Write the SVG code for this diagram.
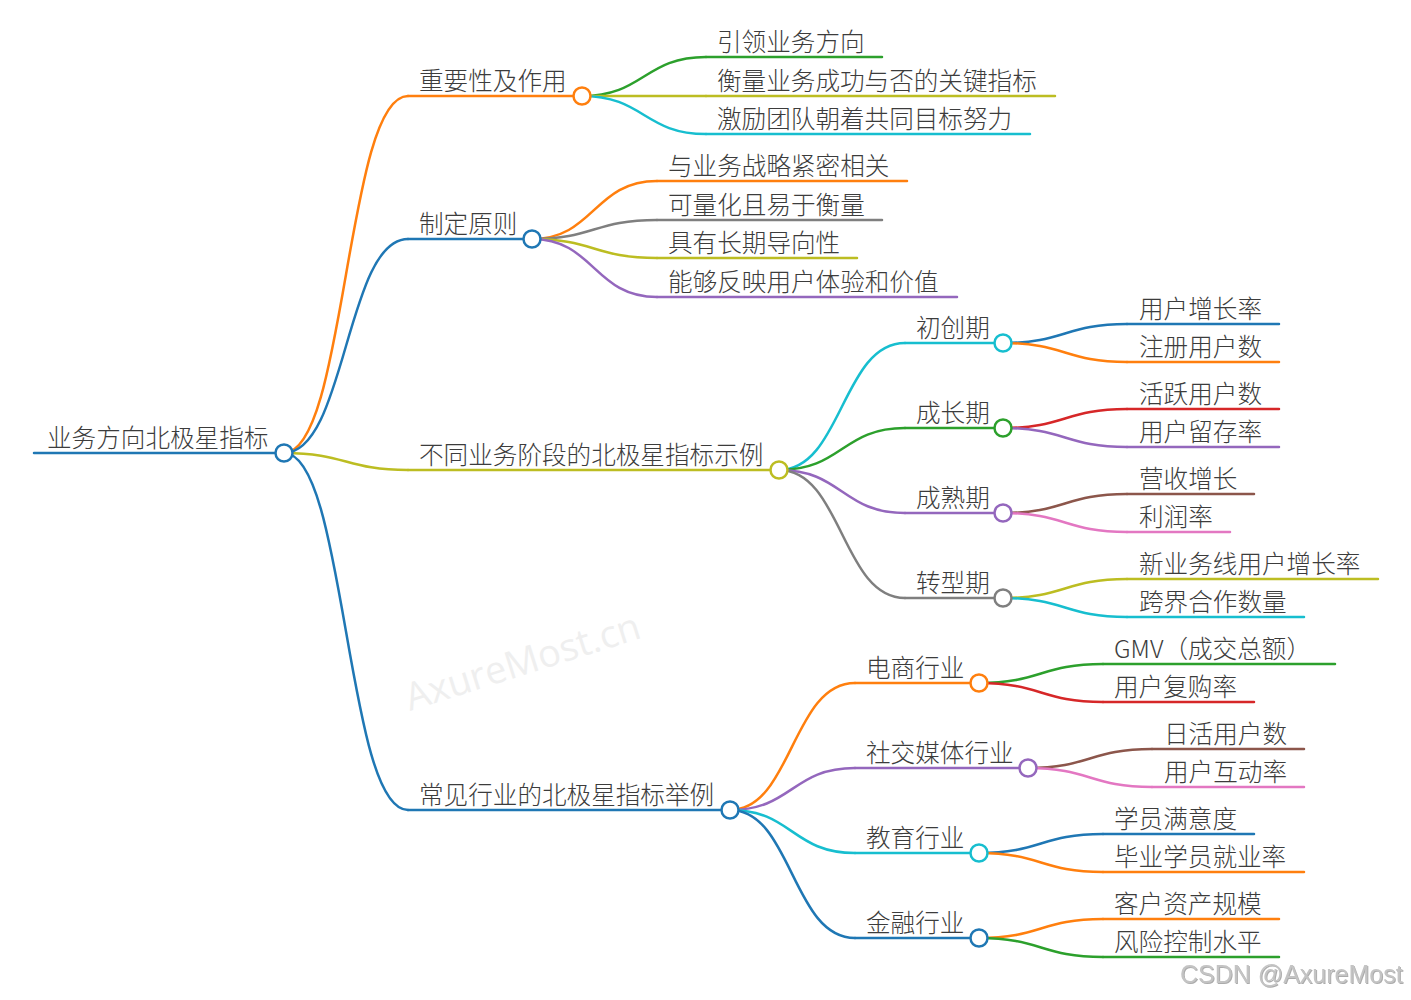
<svg xmlns="http://www.w3.org/2000/svg" width="1411" height="1000" viewBox="0 0 1411 1000">
<style>
text{font-family:"Noto Sans CJK SC","Noto Sans",sans-serif;font-size:24.6px;font-weight:300;fill:#3c3c3c}
.ln{fill:none;stroke-width:2.5;stroke-linecap:round}
.dot{fill:#fff;stroke-width:2.5}
.c1{stroke:#1f77b4}.c2{stroke:#ff7f0e}.c3{stroke:#2ca02c}.c4{stroke:#d62728}.c5{stroke:#9467bd}
.c6{stroke:#8c564b}.c7{stroke:#e377c2}.c8{stroke:#7f7f7f}.c9{stroke:#bcbd22}.c10{stroke:#17becf}
.wm{font-family:"Open Sans",sans-serif;font-size:38px;font-weight:400;fill:#efefef}
.cs{font-family:"Liberation Sans",Arial,sans-serif;font-size:25px;font-weight:400;fill:#c4c4c4}
</style>
<defs>
<filter id="sh" x="-5%" y="-20%" width="110%" height="150%"><feDropShadow dx="1" dy="1" stdDeviation="0.6" flood-color="#888" flood-opacity="0.7"/></filter>
</defs>
<rect width="1411" height="1000" fill="#fff"/>
<text class="wm" transform="translate(410,711) rotate(-17.5)">AxureMost.cn</text>

<g id="connectors">
<path class="ln c2" d="M284,453 C346,453 346,96 408,96"/>
<path class="ln c1" d="M284,453 C346,453 346,239 408,239"/>
<path class="ln c9" d="M284,453 C346,453 346,470 408,470"/>
<path class="ln c1" d="M284,453 C346,453 346,810 408,810"/>

<path class="ln c3" d="M582,96 C644,96 644,57 706,57"/>
<path class="ln c9" d="M582,96 L706,96"/>
<path class="ln c10" d="M582,96 C644,96 644,134 706,134"/>

<path class="ln c2" d="M532,239 C594,239 594,181 657,181"/>
<path class="ln c8" d="M532,239 C594,239 594,220 657,220"/>
<path class="ln c9" d="M532,239 C594,239 594,258 657,258"/>
<path class="ln c5" d="M532,239 C594,239 594,297 657,297"/>

<path class="ln c10" d="M779,470 C842,470 842,343 905,343"/>
<path class="ln c3" d="M779,470 C842,470 842,428 905,428"/>
<path class="ln c5" d="M779,470 C842,470 842,513 905,513"/>
<path class="ln c8" d="M779,470 C842,470 842,598 905,598"/>

<path class="ln c1" d="M1003,343 C1065,343 1065,324 1127,324"/>
<path class="ln c2" d="M1003,343 C1065,343 1065,362 1127,362"/>
<path class="ln c4" d="M1003,428 C1065,428 1065,409 1127,409"/>
<path class="ln c5" d="M1003,428 C1065,428 1065,447 1127,447"/>
<path class="ln c6" d="M1003,513 C1065,513 1065,494 1127,494"/>
<path class="ln c7" d="M1003,513 C1065,513 1065,532 1127,532"/>
<path class="ln c9" d="M1003,598 C1065,598 1065,579 1127,579"/>
<path class="ln c10" d="M1003,598 C1065,598 1065,617 1127,617"/>

<path class="ln c2" d="M730,810 C792,810 792,683 855,683"/>
<path class="ln c5" d="M730,810 C792,810 792,768 855,768"/>
<path class="ln c10" d="M730,810 C792,810 792,853 855,853"/>
<path class="ln c1" d="M730,810 C792,810 792,938 855,938"/>

<path class="ln c3" d="M979,683 C1041,683 1041,664 1103,664"/>
<path class="ln c4" d="M979,683 C1041,683 1041,702 1103,702"/>
<path class="ln c6" d="M1028,768 C1090,768 1090,749 1152,749"/>
<path class="ln c7" d="M1028,768 C1090,768 1090,787 1152,787"/>
<path class="ln c1" d="M979,853 C1041,853 1041,834 1103,834"/>
<path class="ln c2" d="M979,853 C1041,853 1041,872 1103,872"/>
<path class="ln c2" d="M979,938 C1041,938 1041,919 1103,919"/>
<path class="ln c3" d="M979,938 C1041,938 1041,957 1103,957"/>
</g>

<g id="root"><line class="ln c1" x1="34" y1="453" x2="284" y2="453" stroke-width="3"/><circle class="dot c1" cx="284" cy="453" r="8.5"/><text x="47" y="447">业务方向北极星指标</text></g>

<g id="n-importance"><line class="ln c2" x1="408" y1="96" x2="582" y2="96"/><circle class="dot c2" cx="582" cy="96" r="8.5"/><text x="419" y="90">重要性及作用</text></g>
<g id="n-imp1"><line class="ln c3" x1="706" y1="57" x2="882" y2="57"/><text x="717" y="51">引领业务方向</text></g>
<g id="n-imp2"><line class="ln c9" x1="706" y1="96" x2="1055" y2="96"/><text x="717" y="90">衡量业务成功与否的关键指标</text></g>
<g id="n-imp3"><line class="ln c10" x1="706" y1="134" x2="1030" y2="134"/><text x="717" y="128">激励团队朝着共同目标努力</text></g>

<g id="n-principle"><line class="ln c1" x1="408" y1="239" x2="532" y2="239"/><circle class="dot c1" cx="532" cy="239" r="8.5"/><text x="419" y="233">制定原则</text></g>
<g id="n-pr1"><line class="ln c2" x1="657" y1="181" x2="907" y2="181"/><text x="668" y="175">与业务战略紧密相关</text></g>
<g id="n-pr2"><line class="ln c8" x1="657" y1="220" x2="882" y2="220"/><text x="668" y="214">可量化且易于衡量</text></g>
<g id="n-pr3"><line class="ln c9" x1="657" y1="258" x2="857" y2="258"/><text x="668" y="252">具有长期导向性</text></g>
<g id="n-pr4"><line class="ln c5" x1="657" y1="297" x2="957" y2="297"/><text x="668" y="291">能够反映用户体验和价值</text></g>

<g id="n-stage"><line class="ln c9" x1="408" y1="470" x2="779" y2="470"/><circle class="dot c9" cx="779" cy="470" r="8.5"/><text x="419" y="464">不同业务阶段的北极星指标示例</text></g>
<g id="n-s1"><line class="ln c10" x1="905" y1="343" x2="1003" y2="343"/><circle class="dot c10" cx="1003" cy="343" r="8.5"/><text x="916" y="337">初创期</text></g>
<g id="n-s1a"><line class="ln c1" x1="1127" y1="324" x2="1279" y2="324"/><text x="1139" y="318">用户增长率</text></g>
<g id="n-s1b"><line class="ln c2" x1="1127" y1="362" x2="1279" y2="362"/><text x="1139" y="356">注册用户数</text></g>
<g id="n-s2"><line class="ln c3" x1="905" y1="428" x2="1003" y2="428"/><circle class="dot c3" cx="1003" cy="428" r="8.5"/><text x="916" y="422">成长期</text></g>
<g id="n-s2a"><line class="ln c4" x1="1127" y1="409" x2="1279" y2="409"/><text x="1139" y="403">活跃用户数</text></g>
<g id="n-s2b"><line class="ln c5" x1="1127" y1="447" x2="1279" y2="447"/><text x="1139" y="441">用户留存率</text></g>
<g id="n-s3"><line class="ln c5" x1="905" y1="513" x2="1003" y2="513"/><circle class="dot c5" cx="1003" cy="513" r="8.5"/><text x="916" y="507">成熟期</text></g>
<g id="n-s3a"><line class="ln c6" x1="1127" y1="494" x2="1254" y2="494"/><text x="1139" y="488">营收增长</text></g>
<g id="n-s3b"><line class="ln c7" x1="1127" y1="532" x2="1230" y2="532"/><text x="1139" y="526">利润率</text></g>
<g id="n-s4"><line class="ln c8" x1="905" y1="598" x2="1003" y2="598"/><circle class="dot c8" cx="1003" cy="598" r="8.5"/><text x="916" y="592">转型期</text></g>
<g id="n-s4a"><line class="ln c9" x1="1127" y1="579" x2="1378" y2="579"/><text x="1139" y="573">新业务线用户增长率</text></g>
<g id="n-s4b"><line class="ln c10" x1="1127" y1="617" x2="1304" y2="617"/><text x="1139" y="611">跨界合作数量</text></g>

<g id="n-industry"><line class="ln c1" x1="408" y1="810" x2="730" y2="810"/><circle class="dot c1" cx="730" cy="810" r="8.5"/><text x="419" y="804">常见行业的北极星指标举例</text></g>
<g id="n-i1"><line class="ln c2" x1="855" y1="683" x2="979" y2="683"/><circle class="dot c2" cx="979" cy="683" r="8.5"/><text x="866" y="677">电商行业</text></g>
<g id="n-i1a"><line class="ln c3" x1="1103" y1="664" x2="1335" y2="664"/><text x="1114" y="658">GMV（成交总额）</text></g>
<g id="n-i1b"><line class="ln c4" x1="1103" y1="702" x2="1254" y2="702"/><text x="1114" y="696">用户复购率</text></g>
<g id="n-i2"><line class="ln c5" x1="855" y1="768" x2="1028" y2="768"/><circle class="dot c5" cx="1028" cy="768" r="8.5"/><text x="866" y="762">社交媒体行业</text></g>
<g id="n-i2a"><line class="ln c6" x1="1152" y1="749" x2="1304" y2="749"/><text x="1164" y="743">日活用户数</text></g>
<g id="n-i2b"><line class="ln c7" x1="1152" y1="787" x2="1304" y2="787"/><text x="1164" y="781">用户互动率</text></g>
<g id="n-i3"><line class="ln c10" x1="855" y1="853" x2="979" y2="853"/><circle class="dot c10" cx="979" cy="853" r="8.5"/><text x="866" y="847">教育行业</text></g>
<g id="n-i3a"><line class="ln c1" x1="1103" y1="834" x2="1254" y2="834"/><text x="1114" y="828">学员满意度</text></g>
<g id="n-i3b"><line class="ln c2" x1="1103" y1="872" x2="1304" y2="872"/><text x="1114" y="866">毕业学员就业率</text></g>
<g id="n-i4"><line class="ln c1" x1="855" y1="938" x2="979" y2="938"/><circle class="dot c1" cx="979" cy="938" r="8.5"/><text x="866" y="932">金融行业</text></g>
<g id="n-i4a"><line class="ln c2" x1="1103" y1="919" x2="1279" y2="919"/><text x="1114" y="913">客户资产规模</text></g>
<g id="n-i4b"><line class="ln c3" x1="1103" y1="957" x2="1279" y2="957"/><text x="1114" y="951">风险控制水平</text></g>

<text class="cs" x="1180" y="983" filter="url(#sh)">CSDN @AxureMost</text>
</svg>
